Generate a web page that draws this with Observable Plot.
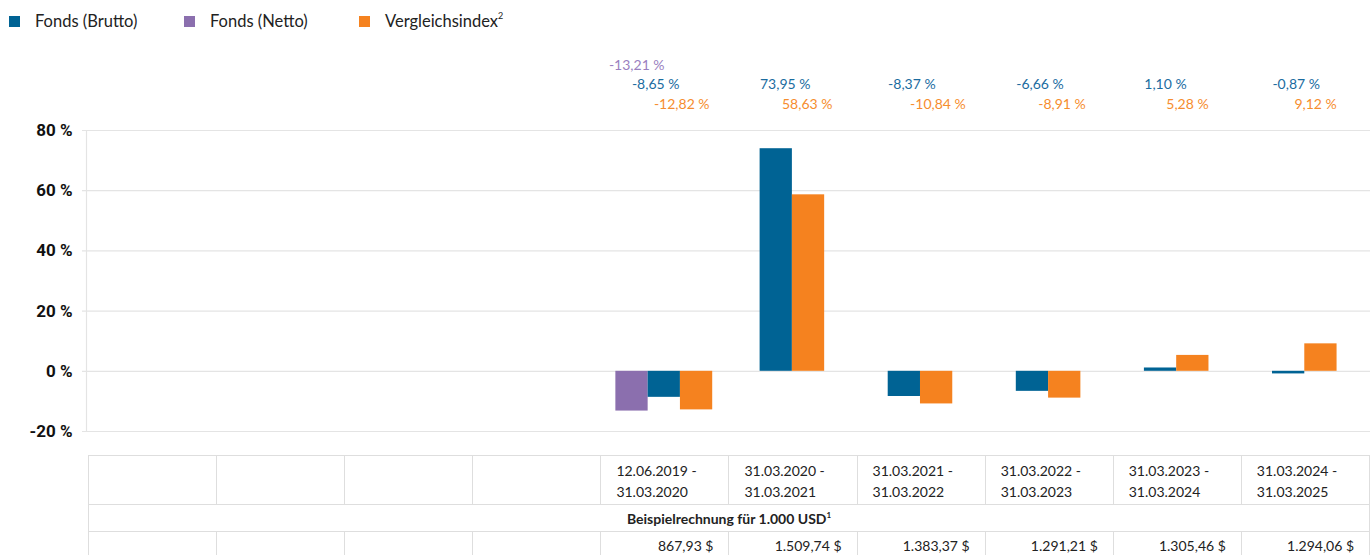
<!DOCTYPE html>
<html><head><meta charset="utf-8">
<script src="https://cdn.jsdelivr.net/npm/d3@7"></script>
<script src="https://cdn.jsdelivr.net/npm/@observablehq/plot@0.6"></script>
<style>
body{margin:0;background:#fff;font-family:Lato,"Noto Sans",sans-serif;color:#222;}
#legend{position:absolute;top:0;left:0;height:40px;width:1372px;}
.li{position:absolute;top:10px;font-size:16.5px;line-height:22px;color:#222;white-space:nowrap;}
.sw{display:inline-block;width:11px;height:11px;margin-right:15px;vertical-align:0px;}
.li sup{font-size:9px;vertical-align:8px;line-height:0;}
#chart{position:absolute;top:40px;left:0;}
#tbl{position:absolute;top:455px;left:88px;width:1282px;border-collapse:collapse;table-layout:fixed;font-size:14px;color:#222;}
#tbl td{border:1px solid #dedede;padding:0;box-sizing:border-box;}
#tbl tr.r1 td{height:49px;vertical-align:top;padding:4px 0 0 15px;line-height:21px;}
#tbl tr.r2 td{height:27px;text-align:center;font-weight:bold;vertical-align:middle;}
#tbl tr.r2 sup{font-size:8px;vertical-align:6px;line-height:0;}
#tbl tr.r3 td{height:29px;text-align:right;padding-right:15px;vertical-align:middle;line-height:16px;}
</style></head><body>
<div id="legend"></div>
<div id="chart"></div>
<table id="tbl"></table>
<script>
const periods = ["", "", "", "", "12.06.2019 - 31.03.2020", "31.03.2020 - 31.03.2021", "31.03.2021 - 31.03.2022", "31.03.2022 - 31.03.2023", "31.03.2023 - 31.03.2024", "31.03.2024 - 31.03.2025"];
const fondsBrutto = [null, null, null, null, -8.65, 73.95, -8.37, -6.66, 1.10, -0.87];
const fondsNetto = [null, null, null, null, -13.21, null, null, null, null, null];
const vergleichsindex = [null, null, null, null, -12.82, 58.63, -10.84, -8.91, 5.28, 9.12];
const beispielrechnung = ["", "", "", "", "867,93 $", "1.509,74 $", "1.383,37 $", "1.291,21 $", "1.305,46 $", "1.294,06 $"];
const yTicks = [-20, 0, 20, 40, 60, 80];

const series = [
  {key: "netto", name: "Fonds (Netto)", values: fondsNetto, color: "#8b6fae", text: "#9a80c0", dx: 7, dy: -70},
  {key: "brutto", name: "Fonds (Brutto)", values: fondsBrutto, color: "#006394", text: "#1b6c9f", dx: 30, dy: -51},
  {key: "index", name: "Vergleichsindex", values: vergleichsindex, color: "#f5821f", text: "#f68d2e", dx: 52, dy: -31}
];
const legendOrder = [
  {name: "Fonds (Brutto)", sup: "", color: "#006394"},
  {name: "Fonds (Netto)", sup: "", color: "#8b6fae"},
  {name: "Vergleichsindex", sup: "2", color: "#f5821f"}
];

// legend
const lg = document.getElementById("legend");
legendOrder.forEach((d, i) => {
  const el = document.createElement("div");
  el.className = "li";
  el.style.left = (9 + i * 175) + "px";
  el.innerHTML = `<span class="sw" style="background:${d.color}"></span>${d.name}${d.sup ? `<sup>${d.sup}</sup>` : ""}`;
  lg.appendChild(el);
});

// bars table
const barW = 0.252, groupCenter = 0.487;
const bars = [];
const labels = [];
periods.forEach((p, i) => {
  const present = series.filter(s => s.values[i] != null);
  present.forEach((s, k) => {
    const x1 = i + groupCenter + (k - present.length / 2) * barW;
    bars.push({i, key: s.key, x1, x2: x1 + barW, y: s.values[i]});
    labels.push({i, key: s.key, v: s.values[i]});
  });
});
const fmt = v => v.toFixed(2).replace(".", ",") + " %";
const colorOf = Object.fromEntries(series.map(s => [s.key, s.color]));

const chart = Plot.plot({
  width: 1372,
  height: 405,
  marginLeft: 89,
  marginRight: 2,
  marginTop: 90,
  marginBottom: 14,
  style: {fontFamily: "Lato, sans-serif", background: "#fff"},
  x: {type: "linear", domain: [0, periods.length], axis: null},
  y: {domain: [-20, 80], axis: null},
  marks: [
    Plot.ruleY(yTicks, {stroke: "#e4e4e4", strokeWidth: 1.2, insetLeft: -7}),
    Plot.ruleX([0], {y1: -20, y2: 80, dx: -3, stroke: "#e4e4e4", strokeWidth: 1.2}),
    Plot.axisY(yTicks, {tickFormat: d => d + " %", tickSize: 0, tickPadding: 17, fontSize: 17, fontWeight: "bold", fill: "#111", fontFamily: "Roboto, sans-serif", label: null}),
    Plot.rectY(bars, {x1: "x1", x2: "x2", y1: 0, y2: "y", fill: d => colorOf[d.key]}),
    ...series.map(s => Plot.text(labels.filter(d => d.key === s.key), {
      x: "i", text: d => fmt(d.v), frameAnchor: "top", dx: s.dx, dy: s.dy,
      textAnchor: "start", fill: s.text, fontSize: 14
    }))
  ]
});
document.getElementById("chart").appendChild(chart);

// table below the chart
const tbl = document.getElementById("tbl");
const r1 = document.createElement("tr"); r1.className = "r1";
periods.forEach(p => {
  const td = document.createElement("td");
  if (p) { const [a, b] = p.split(" - "); td.innerHTML = a + " -<br>" + b; }
  r1.appendChild(td);
});
const r2 = document.createElement("tr"); r2.className = "r2";
r2.innerHTML = `<td colspan="${periods.length}">Beispielrechnung für 1.000 USD<sup>1</sup></td>`;
const r3 = document.createElement("tr"); r3.className = "r3";
beispielrechnung.forEach(v => { const td = document.createElement("td"); td.textContent = v; r3.appendChild(td); });
tbl.append(r1, r2, r3);
</script>
</body></html>
